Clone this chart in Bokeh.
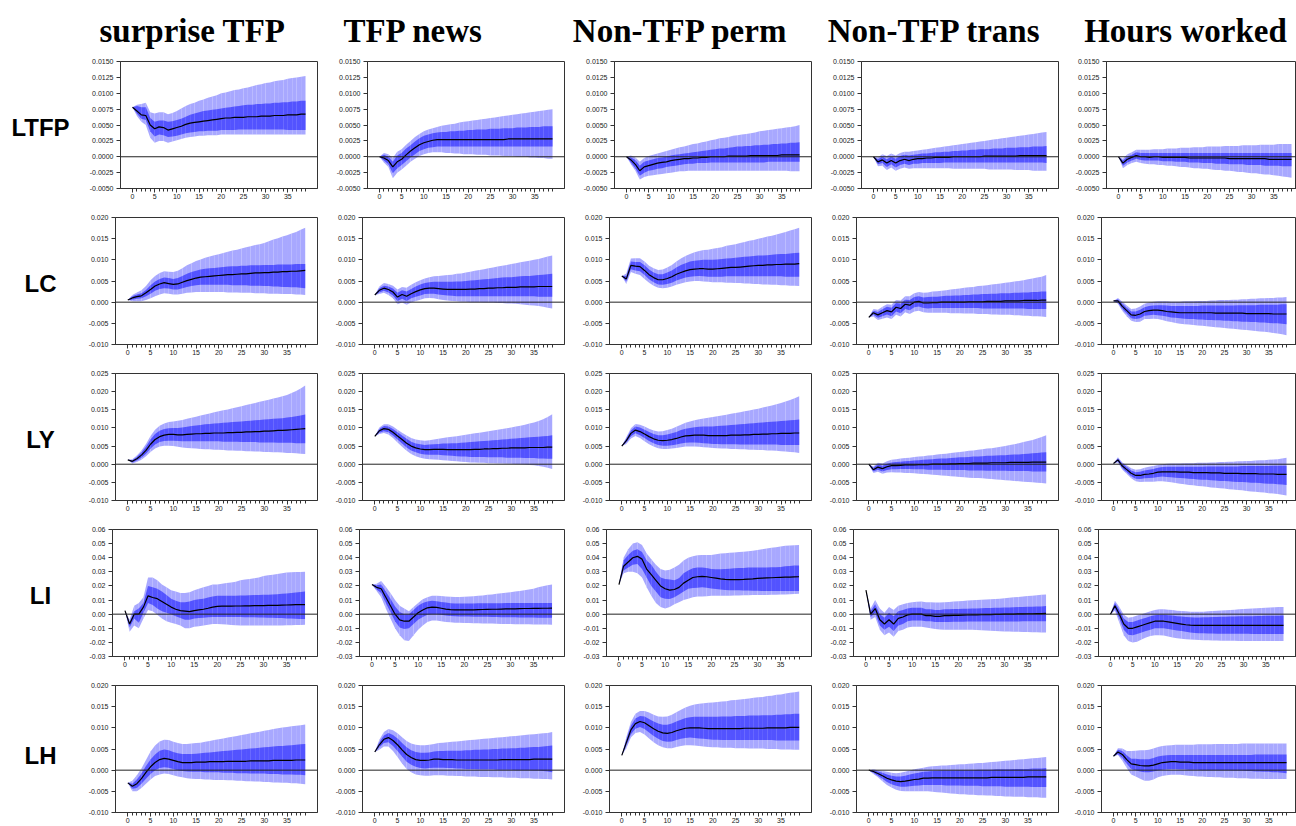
from bokeh.plotting import figure
from bokeh.layouts import column, row
from bokeh.models import FixedTicker, PrintfTickFormatter, Span
from bokeh.core.properties import value
from bokeh.embed import file_html
from bokeh.resources import INLINE

# ---------------- data (values in units of 1e-4) ----------------
horizons = list(range(40))
row_names = ["LTFP", "LC", "LY", "LI", "LH"]
col_names = ["surprise TFP", "TFP news", "Non-TFP perm", "Non-TFP trans", "Hours worked"]
col_keys = ["surp", "news", "perm", "trans", "hours"]

y_ticks = {
    "LTFP": [-0.005, -0.0025, 0.0, 0.0025, 0.005, 0.0075, 0.01, 0.0125, 0.015],
    "LC": [-0.01, -0.005, 0.0, 0.005, 0.01, 0.015, 0.02],
    "LY": [-0.01, -0.005, 0.0, 0.005, 0.01, 0.015, 0.02, 0.025],
    "LI": [-0.03, -0.02, -0.01, 0.0, 0.01, 0.02, 0.03, 0.04, 0.05, 0.06],
    "LH": [-0.01, -0.005, 0.0, 0.005, 0.01, 0.015, 0.02],
}
y_fmt = {"LTFP": "%.4f", "LC": "%.3f", "LY": "%.3f", "LI": "%.2f", "LH": "%.3f"}
x_ticks = [0, 5, 10, 15, 20, 25, 30, 35]

# ---- LTFP ----
LTFP_surp_med = [78,72,66,65,50,44,47,46,42,44, 46,48,51,53,54,55,56,57,58,59, 60,61,61,62,62,62,63,63,63,64, 64,64,65,65,65,66,66,66,67,67]
LTFP_surp_hi68 = [78,80,78,78,61,55,57,57,55,56, 58,60,63,66,68,70,72,73,74,75, 76,77,78,79,80,81,82,82,83,83, 84,84,85,85,86,86,87,87,88,88]
LTFP_surp_lo68 = [78,68,60,58,40,32,35,34,31,32, 33,35,37,38,39,40,40,41,41,41, 42,42,42,42,43,43,43,43,43,43, 43,43,43,43,43,42,42,42,42,42]
LTFP_surp_hi90 = [78,82,83,85,70,68,70,70,67,69, 72,76,80,83,85,88,90,93,95,97, 100,101,103,105,106,108,109,111,113,114, 116,117,119,120,121,123,124,125,126,127]
LTFP_surp_lo90 = [78,64,55,50,30,22,25,25,22,24, 26,28,30,31,32,33,33,34,34,34, 35,35,35,35,35,35,35,35,35,35, 35,35,35,35,35,35,35,35,35,35]

LTFP_news_med = [0,-2,-6,-16,-8,-4,3,9,14,19, 22,24,26,27,27,27,27,27,27,27, 27,27,27,27,27,27,27,27,27,28, 28,28,28,28,28,28,28,28,28,28]
LTFP_news_hi68 = [0,3,0,-8,2,6,13,18,24,29, 33,35,37,38,39,39,40,40,41,41, 42,42,43,43,43,44,44,44,45,45, 45,46,46,46,47,47,47,48,48,48]
LTFP_news_lo68 = [0,-6,-12,-26,-18,-13,-7,-1,4,9, 12,14,15,16,16,16,16,16,16,16, 16,16,16,16,16,16,16,16,16,16, 16,16,16,16,16,16,16,16,16,16]
LTFP_news_hi90 = [0,6,4,-2,8,12,19,25,31,36, 40,43,45,47,49,50,51,52,54,55, 56,57,58,59,60,61,62,63,64,65, 66,67,68,69,70,71,72,73,74,75]
LTFP_news_lo90 = [0,-9,-16,-34,-25,-20,-14,-8,-3,1, 4,6,7,7,7,6,6,5,5,4, 4,4,3,3,3,2,2,2,1,1, 1,0,0,0,-1,-1,-2,-2,-3,-3]

LTFP_perm_med = [0,-5,-12,-22,-16,-14,-12,-10,-9,-8, -6,-5,-4,-3,-3,-2,-2,-1,-1,0, 0,0,0,1,1,1,1,1,2,2, 2,2,2,2,2,3,3,3,3,3]
LTFP_perm_hi68 = [0,-1,-5,-14,-8,-6,-4,-2,-1,0, 2,3,4,5,6,7,8,9,10,11, 12,13,13,14,15,16,16,17,17,18, 18,19,19,20,20,21,21,22,22,23]
LTFP_perm_lo68 = [0,-9,-18,-30,-25,-22,-21,-19,-18,-16, -15,-14,-13,-12,-11,-11,-10,-10,-10,-9, -9,-9,-9,-9,-9,-9,-9,-9,-9,-9, -9,-9,-8,-8,-8,-8,-8,-8,-8,-8]
LTFP_perm_hi90 = [0,2,-1,-8,-2,1,3,5,7,9, 11,13,15,16,18,20,21,23,24,26, 27,29,30,31,33,34,35,36,37,38, 40,41,42,43,44,45,46,47,48,50]
LTFP_perm_lo90 = [0,-12,-22,-36,-32,-30,-29,-28,-27,-26, -25,-24,-23,-23,-22,-22,-22,-22,-22,-22, -22,-22,-22,-22,-22,-22,-22,-22,-22,-22, -22,-22,-22,-22,-22,-22,-22,-23,-23,-23]

LTFP_trans_med = [0,-8,-5,-10,-6,-10,-6,-4,-6,-4, -3,-3,-2,-2,-1,-1,-1,-1,0,0, 0,0,0,0,0,1,1,1,1,1, 1,1,1,2,2,2,2,2,2,2]
LTFP_trans_hi68 = [0,-4,0,-4,0,-3,1,3,2,3, 4,5,5,6,7,7,8,8,9,9, 10,10,11,11,12,12,12,13,13,13, 14,14,14,15,15,15,16,16,16,17]
LTFP_trans_lo68 = [0,-12,-10,-16,-12,-17,-13,-11,-13,-11, -11,-10,-10,-10,-10,-10,-9,-9,-9,-9, -9,-9,-9,-9,-9,-9,-9,-9,-9,-9, -9,-9,-9,-9,-9,-9,-9,-9,-9,-10]
LTFP_trans_hi90 = [0,-1,4,1,5,2,6,8,8,9, 10,11,12,13,14,15,16,17,18,19, 20,21,22,23,24,25,26,27,28,29, 30,31,32,33,34,35,36,37,38,39]
LTFP_trans_lo90 = [0,-15,-14,-21,-17,-22,-19,-17,-19,-18, -18,-18,-18,-18,-18,-18,-18,-18,-19,-19, -19,-19,-19,-19,-19,-19,-20,-20,-20,-20, -20,-20,-21,-21,-21,-21,-22,-22,-22,-22]

LTFP_hours_med = [0,-10,-4,-1,2,0,0,-1,0,0, -1,-1,-1,-1,-1,-1,-2,-2,-2,-2, -2,-2,-2,-2,-2,-3,-3,-3,-3,-3, -3,-3,-3,-3,-4,-4,-4,-4,-4,-4]
LTFP_hours_hi68 = [0,-6,0,3,7,6,6,6,6,6, 6,6,6,6,6,6,6,6,6,6, 6,6,6,6,6,6,6,6,6,6, 6,6,6,6,6,6,6,6,6,6]
LTFP_hours_lo68 = [0,-14,-9,-6,-3,-5,-6,-6,-6,-6, -7,-7,-7,-8,-8,-8,-9,-9,-9,-10, -10,-10,-11,-11,-11,-12,-12,-12,-12,-13, -13,-13,-13,-14,-14,-14,-14,-15,-15,-15]
LTFP_hours_hi90 = [0,-3,4,7,11,11,11,11,12,12, 12,13,13,13,14,14,14,15,15,15, 16,16,16,16,17,17,17,17,18,18, 18,18,19,19,19,19,20,20,20,20]
LTFP_hours_lo90 = [0,-18,-13,-10,-8,-10,-11,-12,-12,-13, -13,-14,-14,-15,-16,-16,-17,-18,-18,-19, -19,-20,-21,-21,-22,-22,-23,-24,-24,-25, -26,-26,-27,-28,-28,-29,-30,-31,-32,-33]

# ---- LC ----
LC_surp_med = [5,10,13,15,22,30,38,43,46,44, 42,43,47,51,54,57,59,60,61,62, 63,64,65,65,66,67,67,68,69,69, 70,70,71,71,72,72,73,73,74,75]
LC_surp_hi68 = [5,14,18,21,29,40,49,55,58,57, 55,57,62,67,71,74,77,79,80,81, 82,83,84,85,85,86,86,87,87,87, 88,88,88,89,89,89,89,90,90,90]
LC_surp_lo68 = [5,6,8,9,14,20,27,31,33,32, 30,30,33,36,38,40,41,41,41,41, 41,41,41,40,40,40,40,39,39,39, 38,38,37,37,36,36,35,35,34,33]
LC_surp_hi90 = [5,17,23,28,38,52,62,69,73,72, 71,74,80,87,92,97,101,105,108,111, 113,116,119,122,124,127,130,132,135,137, 140,144,148,151,155,158,162,166,171,176]
LC_surp_lo90 = [5,2,2,2,5,9,14,18,21,20, 18,18,20,22,23,24,24,24,24,24, 24,24,23,23,23,22,22,22,21,21, 21,20,20,20,19,19,19,18,18,17]

LC_news_med = [17,28,33,30,24,12,18,14,20,25, 29,32,33,33,32,31,30,30,30,30, 30,31,31,32,32,33,33,34,34,35, 35,35,36,36,36,36,37,37,37,37]
LC_news_hi68 = [17,33,39,37,32,22,28,25,31,37, 42,45,47,48,48,48,48,48,49,49, 50,51,52,53,54,55,56,57,58,59, 59,60,61,62,62,63,64,65,66,67]
LC_news_lo68 = [17,23,27,23,16,3,8,3,9,13, 16,19,20,20,18,17,16,15,14,14, 14,14,14,14,14,14,14,14,14,14, 14,14,14,14,14,14,13,13,13,13]
LC_news_hi90 = [17,37,45,43,39,30,36,34,41,47, 52,56,59,61,62,63,64,65,67,68, 70,72,74,76,78,80,82,84,86,88, 90,92,94,96,98,100,102,105,108,110]
LC_news_lo90 = [17,19,22,17,9,-5,-1,-6,-1,3, 6,9,10,9,7,5,4,3,2,1, 1,0,0,0,-1,-1,-1,-2,-2,-3, -3,-4,-5,-6,-7,-8,-9,-11,-13,-15]

LC_perm_med = [62,55,87,85,84,75,65,58,53,53, 56,60,66,70,74,77,78,79,79,78, 78,79,80,81,82,82,83,84,85,86, 87,87,88,88,89,89,90,90,90,91]
LC_perm_hi68 = [62,62,96,95,95,87,77,70,66,66, 70,75,82,88,92,96,98,99,100,100, 100,101,102,103,104,105,106,107,108,109, 110,110,111,112,113,114,114,115,116,117]
LC_perm_lo68 = [62,49,78,75,73,64,54,47,42,41, 43,46,51,55,58,60,61,62,61,60, 60,60,60,61,61,61,61,61,61,61, 61,61,61,61,61,61,60,60,60,60]
LC_perm_hi90 = [62,68,103,104,104,96,86,80,76,77, 82,88,96,103,109,114,118,121,123,124, 126,128,130,133,135,137,140,142,145,147, 150,152,155,157,160,163,166,169,172,176]
LC_perm_lo90 = [62,43,71,67,64,55,46,39,34,33, 34,37,41,44,47,49,50,50,49,48, 47,47,47,46,46,45,45,44,44,43, 43,42,42,41,41,40,40,39,39,38]

LC_trans_med = [-36,-25,-30,-25,-20,-23,-12,-15,-5,-7, 0,2,-2,-2,-1,-1,0,0,0,0, 0,0,1,1,1,1,2,2,2,2, 3,3,3,3,4,4,4,4,5,5]
LC_trans_hi68 = [-36,-20,-23,-17,-11,-13,-2,-4,6,5, 12,14,11,12,13,13,14,15,15,16, 16,17,17,18,18,19,19,20,20,21, 21,21,22,22,23,23,24,24,25,25]
LC_trans_lo68 = [-36,-30,-37,-33,-29,-33,-22,-26,-16,-19, -12,-10,-14,-15,-14,-14,-14,-14,-14,-14, -14,-14,-14,-14,-14,-15,-15,-15,-15,-15, -15,-15,-15,-15,-15,-16,-16,-16,-16,-16]
LC_trans_hi90 = [-36,-16,-18,-11,-5,-6,5,4,14,14, 21,24,22,23,25,26,27,28,30,31, 32,34,35,36,38,39,40,42,43,44, 46,47,49,50,52,54,56,58,60,64]
LC_trans_lo90 = [-36,-34,-42,-39,-36,-40,-30,-34,-24,-28, -22,-20,-24,-25,-25,-25,-25,-25,-26,-26, -26,-27,-27,-27,-28,-28,-28,-29,-29,-30, -30,-30,-31,-31,-32,-32,-33,-33,-34,-35]

LC_hours_med = [3,3,-10,-20,-30,-31,-28,-22,-20,-19, -19,-20,-22,-23,-24,-25,-25,-25,-25,-25, -25,-25,-25,-26,-26,-26,-26,-26,-26,-26, -27,-27,-27,-27,-27,-27,-28,-28,-28,-28]
LC_hours_hi68 = [3,7,-4,-13,-22,-22,-18,-12,-9,-8, -7,-7,-8,-9,-9,-9,-9,-9,-9,-9, -8,-8,-8,-8,-8,-8,-8,-8,-7,-7, -7,-7,-7,-6,-6,-6,-6,-6,-5,-5]
LC_hours_lo68 = [3,-1,-16,-27,-38,-40,-38,-32,-31,-30, -31,-32,-34,-36,-37,-38,-39,-40,-40,-41, -41,-42,-42,-43,-43,-44,-44,-45,-45,-46, -46,-47,-47,-48,-48,-49,-50,-50,-51,-52]
LC_hours_hi90 = [3,10,1,-8,-16,-15,-10,-4,-1,1, 2,2,2,1,1,1,2,2,2,3, 3,3,4,4,5,5,5,6,6,7, 7,8,8,9,9,10,10,11,11,12]
LC_hours_lo90 = [3,-4,-21,-33,-44,-47,-46,-40,-40,-39, -40,-42,-45,-47,-49,-51,-52,-53,-54,-55, -56,-57,-58,-59,-60,-61,-62,-63,-64,-65, -66,-67,-68,-69,-70,-71,-73,-74,-76,-78]

# ---- LY ----
LY_surp_med = [12,8,15,25,38,55,68,76,80,82, 82,81,81,82,83,84,84,85,85,86, 86,86,87,87,88,88,89,89,90,90, 91,91,92,93,93,94,95,96,97,98]
LY_surp_hi68 = [12,11,20,32,48,68,83,92,97,99, 100,100,101,103,105,107,108,110,111,112, 113,114,115,116,117,118,119,120,121,122, 123,124,125,126,127,129,130,132,134,137]
LY_surp_lo68 = [12,5,10,18,29,43,54,61,64,65, 65,64,63,63,63,63,63,63,63,63, 63,62,62,62,62,61,61,61,61,60, 60,60,60,59,59,59,59,58,58,58]
LY_surp_hi90 = [12,14,24,38,56,78,95,106,112,116, 118,120,122,125,128,131,134,137,140,143, 146,149,151,154,157,160,163,166,169,172, 175,178,181,184,187,191,196,202,209,217]
LY_surp_lo90 = [12,2,6,12,22,34,43,49,51,51, 50,48,46,45,44,43,42,41,41,40, 40,39,38,38,37,37,36,36,35,35, 34,34,33,33,32,31,31,30,29,28]

LY_news_med = [77,92,98,96,88,78,68,58,50,45, 42,40,40,41,41,41,40,40,40,40, 40,40,41,41,42,42,43,43,44,44, 45,45,45,45,46,46,46,46,47,47]
LY_news_hi68 = [77,97,105,104,97,88,79,70,62,57, 55,53,54,55,56,57,57,58,58,59, 60,61,62,63,64,65,66,67,68,69, 70,71,72,73,74,75,76,77,78,80]
LY_news_lo68 = [77,87,91,88,79,68,57,46,38,33, 29,27,26,26,26,25,24,23,22,21, 21,20,20,20,20,19,19,19,19,18, 18,18,18,17,17,17,16,16,15,15]
LY_news_hi90 = [77,101,110,110,104,95,87,79,72,68, 66,65,66,68,70,72,74,76,77,79, 81,83,85,87,89,91,93,95,97,99, 101,104,106,109,112,115,119,124,130,138]
LY_news_lo90 = [77,83,86,82,72,60,48,37,28,22, 18,15,14,13,12,11,10,9,8,7, 6,5,5,4,4,3,3,2,2,1, 1,0,0,-1,-2,-3,-5,-7,-10,-13]

LY_perm_med = [50,65,85,94,90,83,76,70,66,65, 66,68,71,75,78,79,80,80,80,79, 79,79,79,79,80,80,80,81,81,82, 82,83,83,84,84,85,85,85,86,86]
LY_perm_hi68 = [50,70,93,104,101,95,89,83,80,80, 82,85,89,94,98,100,102,103,104,104, 104,105,106,107,108,109,110,111,112,113, 114,115,116,117,118,119,120,121,122,123]
LY_perm_lo68 = [50,60,77,85,80,72,64,58,53,51, 51,52,54,57,59,60,60,59,58,57, 56,56,55,55,55,55,54,54,54,54, 54,54,54,54,54,53,53,53,53,53]
LY_perm_hi90 = [50,74,99,111,109,104,98,93,90,91, 94,98,103,109,114,118,121,124,126,128, 130,132,134,136,139,141,143,146,148,151, 153,156,159,162,165,169,173,177,182,187]
LY_perm_lo90 = [50,56,71,78,72,63,55,49,44,42, 42,43,45,47,49,49,49,48,47,46, 45,44,43,43,42,42,41,41,40,40, 39,39,38,38,37,36,35,34,33,31]

LY_trans_med = [0,-15,-8,-12,-7,-4,-4,-3,-2,-2, -2,-1,-1,-1,0,0,0,0,1,1, 2,2,2,3,3,3,3,4,4,4, 4,5,5,5,5,5,6,6,6,6]
LY_trans_hi68 = [0,-10,-1,-4,1,5,6,7,8,9, 10,11,12,13,14,15,16,16,17,18, 19,19,20,21,21,22,23,23,24,25, 25,26,27,27,28,29,30,31,32,33]
LY_trans_lo68 = [0,-20,-15,-20,-16,-14,-14,-13,-13,-13, -14,-14,-14,-15,-15,-15,-15,-16,-16,-16, -16,-16,-17,-17,-17,-17,-18,-18,-18,-18, -18,-19,-19,-19,-19,-19,-20,-20,-20,-20]
LY_trans_hi90 = [0,-6,4,2,8,12,14,16,17,18, 20,21,22,24,25,27,28,29,31,32, 34,35,37,38,40,41,43,44,46,48, 50,53,55,58,61,64,67,71,75,80]
LY_trans_lo90 = [0,-24,-21,-26,-23,-22,-23,-23,-24,-24, -25,-26,-27,-28,-29,-30,-31,-32,-33,-34, -35,-36,-37,-38,-38,-39,-40,-41,-42,-43, -44,-45,-46,-47,-48,-49,-50,-51,-52,-53]

LY_hours_med = [2,12,-5,-15,-25,-31,-31,-28,-27,-25, -22,-21,-21,-21,-21,-22,-22,-22,-23,-23, -23,-23,-24,-24,-24,-25,-25,-25,-25,-26, -26,-26,-26,-27,-27,-27,-27,-28,-28,-28]
LY_hours_hi68 = [2,16,1,-8,-17,-22,-21,-17,-15,-13, -10,-8,-7,-7,-7,-7,-7,-7,-7,-7, -7,-6,-6,-6,-6,-6,-6,-6,-6,-5, -5,-5,-5,-5,-5,-5,-4,-4,-4,-4]
LY_hours_lo68 = [2,8,-11,-22,-33,-40,-41,-39,-38,-37, -35,-34,-35,-36,-37,-38,-39,-40,-41,-42, -43,-43,-44,-45,-46,-46,-47,-48,-49,-49, -50,-51,-51,-52,-53,-54,-54,-55,-56,-57]
LY_hours_hi90 = [2,19,5,-3,-11,-15,-14,-10,-7,-5, -2,0,1,2,2,2,3,3,3,4, 4,4,5,5,6,6,7,7,8,8, 9,9,10,11,11,12,13,14,16,18]
LY_hours_lo90 = [2,5,-15,-27,-39,-47,-49,-48,-48,-48, -47,-47,-48,-50,-52,-54,-55,-57,-58,-60, -61,-62,-64,-65,-66,-67,-69,-70,-71,-72, -74,-75,-76,-77,-78,-80,-81,-82,-84,-86]

# ---- LI ----
LI_surp_med = [25,-70,0,0,50,130,118,110,90,70, 50,35,25,22,18,25,30,35,42,50, 55,57,57,57,58,58,59,59,60,60, 61,62,62,63,64,65,66,67,67,68]
LI_surp_hi68 = [25,-55,20,40,80,200,190,180,160,135, 110,95,85,85,90,100,105,110,118,125, 130,130,130,130,131,132,133,134,135,136, 137,138,140,142,144,146,150,154,157,160]
LI_surp_lo68 = [25,-95,-30,-60,10,80,65,40,20,10, 0,-15,-28,-40,-40,-30,-28,-25,-22,-20, -20,-20,-20,-20,-20,-20,-21,-22,-22,-23, -24,-25,-26,-27,-28,-30,-31,-33,-34,-35]
LI_surp_hi90 = [25,-40,60,80,120,260,260,240,210,190, 170,160,150,150,155,170,180,190,200,210, 210,215,220,225,230,240,245,250,255,260, 270,275,280,285,290,295,297,298,299,300]
LI_surp_lo90 = [25,-125,-80,-100,-30,30,20,-5,-30,-50, -60,-70,-80,-100,-100,-90,-85,-80,-75,-70, -70,-72,-74,-76,-78,-80,-80,-80,-80,-80, -80,-80,-80,-80,-80,-79,-78,-77,-76,-75]

LI_news_med = [210,190,180,120,60,0,-40,-50,-50,-20, 10,30,45,50,48,42,36,32,30,30, 30,30,31,32,33,34,35,35,36,37, 38,38,39,40,40,41,41,42,42,43]
LI_news_hi68 = [210,205,210,160,110,55,15,0,0,30, 60,80,90,95,92,87,82,78,76,75, 75,75,76,77,77,78,78,78,78,79, 79,79,79,79,80,80,80,80,80,80]
LI_news_lo68 = [210,175,150,80,15,-50,-95,-105,-100,-70, -40,-20,-5,0,0,-5,-10,-13,-15,-17, -17,-17,-18,-18,-19,-19,-20,-20,-21,-21, -22,-22,-23,-23,-24,-24,-25,-25,-26,-26]
LI_news_hi90 = [210,215,235,195,150,100,60,40,20,50, 80,105,120,130,130,128,125,123,122,122, 123,125,127,130,133,137,140,144,148,152, 156,160,165,170,175,180,190,198,205,210]
LI_news_lo90 = [210,165,120,40,-30,-100,-150,-185,-190,-150, -110,-80,-55,-45,-45,-50,-55,-58,-60,-61, -62,-63,-64,-65,-66,-67,-67,-68,-69,-70, -70,-71,-71,-72,-72,-73,-73,-74,-74,-75]

LI_perm_med = [210,340,370,400,410,390,320,280,240,200, 180,170,175,190,220,240,260,265,268,265, 260,255,250,247,245,245,245,246,248,250, 253,255,257,258,260,261,262,263,264,265]
LI_perm_hi68 = [210,380,420,450,460,440,380,350,300,260, 250,245,240,255,290,310,325,330,330,327, 320,318,318,320,322,325,327,328,330,330, 330,330,331,332,333,335,340,342,344,345]
LI_perm_lo68 = [210,310,330,350,355,320,260,200,160,120, 110,108,120,140,160,180,185,188,190,187, 182,178,175,172,170,170,169,168,167,166, 166,165,165,165,165,165,165,165,165,165]
LI_perm_hi90 = [210,400,460,500,510,490,430,390,350,320, 310,315,330,350,380,400,410,418,420,420, 420,425,430,432,435,437,440,443,446,450, 455,460,465,470,475,480,485,487,489,490]
LI_perm_lo90 = [210,290,300,300,290,260,190,130,80,50, 40,50,70,85,100,110,120,125,125,127, 130,130,130,130,131,132,133,134,134,135, 135,135,136,137,138,140,140,142,143,145]

LI_trans_med = [170,0,40,-40,-70,-40,-70,-30,-20,-5, 0,0,0,-10,-10,-15,-15,-10,-10,-9, -8,-7,-6,-5,-5,-4,-3,-3,-2,-2, 0,0,1,2,2,3,3,4,4,5]
LI_trans_hi68 = [170,20,70,0,-25,10,-15,20,30,40, 45,45,45,35,35,30,30,35,35,36, 37,38,39,40,41,42,43,44,45,46, 47,48,49,50,51,52,53,54,55,57]
LI_trans_lo68 = [170,-20,10,-80,-110,-90,-120,-80,-70,-50, -45,-45,-45,-50,-50,-55,-55,-55,-55,-54, -53,-53,-52,-52,-52,-52,-52,-52,-52,-52, -52,-52,-52,-52,-51,-51,-50,-50,-50,-50]
LI_trans_hi90 = [170,40,100,40,10,50,30,60,70,80, 85,88,90,85,85,82,82,85,87,90, 92,94,96,98,100,102,104,106,108,110, 113,116,119,122,125,128,131,134,137,140]
LI_trans_lo90 = [170,-40,-20,-110,-150,-130,-160,-120,-110,-95, -90,-90,-90,-95,-100,-105,-108,-110,-110,-110, -110,-110,-110,-110,-112,-114,-116,-118,-120,-121, -122,-123,-124,-125,-126,-127,-128,-129,-130,-130]

LI_hours_med = [0,60,0,-70,-100,-100,-90,-80,-70,-60, -50,-50,-50,-55,-60,-65,-70,-75,-78,-79, -80,-80,-80,-80,-80,-80,-80,-80,-80,-80, -80,-80,-80,-80,-80,-80,-80,-80,-80,-80]
LI_hours_hi68 = [0,80,30,-30,-55,-55,-45,-35,-25,-15, -8,-5,-5,-8,-10,-14,-17,-20,-22,-23, -23,-22,-21,-20,-20,-19,-18,-17,-16,-15, -15,-14,-14,-13,-13,-12,-12,-11,-11,-10]
LI_hours_lo68 = [0,40,-30,-110,-145,-150,-140,-130,-120,-110, -100,-100,-100,-105,-110,-115,-120,-125,-130,-133, -135,-136,-137,-137,-138,-138,-138,-139,-139,-139, -139,-139,-140,-140,-140,-140,-140,-140,-140,-140]
LI_hours_hi90 = [0,95,50,-5,-25,-20,-10,0,10,20, 30,35,35,32,30,25,22,20,18,17, 17,18,20,22,24,26,28,30,32,34, 36,38,40,42,44,46,48,49,50,50]
LI_hours_lo90 = [0,25,-60,-150,-190,-200,-195,-180,-165,-155, -150,-150,-152,-158,-165,-170,-175,-178,-180,-182, -183,-184,-185,-186,-187,-188,-188,-189,-189,-190, -190,-190,-190,-190,-190,-190,-190,-190,-190,-190]

# ---- LH ----
LH_surp_med = [-30,-38,-32,-20,-5,8,18,25,28,26, 23,20,18,18,18,19,19,19,20,20, 20,20,21,21,21,21,21,22,22,22, 22,22,23,23,23,23,23,24,24,24]
LH_surp_hi68 = [-30,-32,-22,-8,10,25,37,46,49,47, 43,40,38,38,38,39,40,41,42,43, 44,45,46,47,48,49,50,51,52,53, 54,55,56,57,57,58,59,60,61,62]
LH_surp_lo68 = [-30,-44,-42,-32,-20,-9,0,5,7,6, 3,0,-2,-3,-4,-4,-4,-5,-5,-5, -5,-6,-6,-6,-7,-7,-7,-8,-8,-8, -8,-9,-9,-9,-10,-10,-10,-11,-11,-12]
LH_surp_hi90 = [-30,-25,-12,4,24,44,58,68,72,71, 67,64,62,62,63,64,65,67,69,71, 73,75,77,79,81,83,85,87,89,91, 93,95,97,99,101,102,104,105,106,108]
LH_surp_lo90 = [-30,-50,-50,-42,-32,-22,-14,-10,-8,-9, -12,-15,-17,-19,-20,-21,-21,-22,-22,-23, -23,-23,-24,-24,-25,-25,-26,-26,-27,-27, -28,-28,-29,-29,-30,-30,-31,-31,-32,-33]

LH_news_med = [43,60,73,77,70,60,48,37,30,25, 23,23,24,26,26,25,25,25,24,24, 24,24,24,24,24,24,24,24,25,25, 25,25,25,25,25,26,26,26,26,26]
LH_news_hi68 = [43,66,82,88,83,75,64,54,47,43, 41,41,42,44,45,45,46,46,46,46, 47,47,48,48,49,49,50,50,51,51, 52,52,53,53,54,55,55,56,57,58]
LH_news_lo68 = [43,54,64,66,57,45,32,20,13,8, 5,4,5,6,6,6,5,5,4,4, 3,3,3,2,2,2,2,1,1,1, 1,0,0,0,0,-1,-1,-2,-3,-5]
LH_news_hi90 = [43,72,90,97,94,87,78,69,63,60, 59,59,60,62,64,65,66,67,68,69, 70,71,72,73,74,75,76,77,78,79, 80,81,82,83,84,85,86,87,88,90]
LH_news_lo90 = [43,48,56,56,45,31,16,3,-5,-10, -12,-13,-13,-12,-12,-12,-13,-13,-14,-14, -15,-15,-15,-16,-16,-16,-17,-17,-17,-18, -18,-18,-19,-19,-19,-20,-20,-21,-21,-22]

LH_perm_med = [35,65,95,110,115,112,105,98,92,88, 87,89,93,96,99,100,100,100,99,98, 98,98,98,98,98,98,98,99,99,99, 99,99,100,100,100,100,100,101,101,101]
LH_perm_hi68 = [35,72,105,122,128,127,121,115,110,107, 107,110,115,119,123,125,126,126,126,126, 126,126,127,127,127,128,128,128,129,129, 129,130,130,130,131,131,132,132,133,133]
LH_perm_lo68 = [35,58,85,98,102,97,89,81,74,69, 67,68,71,74,76,77,76,75,74,73, 72,72,71,71,71,71,71,71,71,71, 71,71,71,71,70,70,70,70,70,70]
LH_perm_hi90 = [35,78,114,133,140,140,136,131,127,126, 127,131,137,143,148,152,155,157,158,159, 160,161,162,163,165,166,167,168,169,171, 172,173,175,176,178,179,181,183,184,186]
LH_perm_lo90 = [35,52,77,88,90,84,75,66,59,54, 52,52,55,57,59,59,58,57,56,55, 54,54,53,53,53,52,52,52,51,51, 51,51,50,50,50,49,49,49,48,48]

LH_trans_med = [0,-3,-8,-13,-19,-23,-26,-27,-26,-24, -22,-21,-19,-19,-18,-18,-18,-18,-18,-18, -18,-18,-18,-18,-18,-18,-18,-17,-17,-17, -17,-17,-17,-17,-17,-16,-16,-16,-16,-16]
LH_trans_hi68 = [0,0,-3,-6,-10,-13,-15,-15,-13,-10, -8,-6,-4,-3,-2,-2,-1,-1,-1,-1, 0,0,0,0,1,1,1,1,2,2, 2,2,3,3,3,3,4,4,4,5]
LH_trans_lo68 = [0,-6,-13,-20,-28,-33,-37,-39,-39,-38, -37,-36,-35,-35,-35,-35,-35,-36,-36,-36, -36,-37,-37,-37,-37,-38,-38,-38,-38,-38, -39,-39,-39,-39,-39,-39,-40,-40,-40,-40]
LH_trans_hi90 = [0,2,0,-2,-4,-6,-7,-6,-4,-1, 2,4,6,8,9,10,11,11,12,13, 14,14,15,16,17,17,18,19,20,21, 22,23,24,25,26,27,28,29,30,31]
LH_trans_lo90 = [0,-9,-17,-26,-35,-41,-46,-49,-50,-50, -50,-50,-50,-50,-51,-52,-53,-54,-55,-56, -57,-57,-58,-58,-59,-59,-60,-60,-61,-61, -62,-62,-63,-63,-63,-64,-64,-64,-65,-65]

LH_hours_med = [33,43,37,25,15,13,11,10,10,12, 15,18,19,20,20,19,19,19,18,18, 18,18,18,18,18,18,18,18,18,18, 18,18,18,18,18,18,18,18,18,18]
LH_hours_hi68 = [33,48,45,35,27,27,26,26,26,29, 32,34,35,36,36,36,36,36,36,36, 36,36,36,36,36,36,36,36,36,36, 36,36,37,37,37,37,37,37,37,37]
LH_hours_lo68 = [33,38,29,15,3,0,-3,-5,-5,-3, -1,1,2,3,3,2,2,1,1,1, 0,0,0,0,0,0,0,-1,-1,-1, -2,-2,-3,-3,-4,-4,-5,-5,-6,-7]
LH_hours_hi90 = [33,52,51,45,45,46,47,47,48,51, 55,57,58,59,60,60,60,60,60,61, 61,61,61,62,62,62,62,62,62,63, 63,63,63,63,63,63,63,63,63,63]
LH_hours_lo90 = [33,36,22,5,-10,-15,-20,-25,-25,-22, -17,-14,-12,-11,-11,-11,-12,-13,-14,-15, -15,-16,-16,-17,-17,-18,-18,-18,-19,-19, -19,-20,-20,-20,-21,-21,-21,-21,-21,-21]

# table assembled from the named lists above
g = globals()
DATA = {
    r: {c: tuple(g[f"{r}_{c}_{k}"] for k in ("lo90", "lo68", "med", "hi68", "hi90")) for c in col_keys}
    for r in row_names
}

# ---------------- styling / layout (page has no margin) ----------------
OUTER = "#A8A8FF"
INNER = "#5353FF"
AXIS = "#333333"
TICK_FONT = "Liberation Sans"

PAGE_W = 1296
HEAD_H = 55
TOP, FRAME_H, BOT, BOT_LAST = 6, 127, 23, 14
LABEL_W = 80
col_start = [LABEL_W, 320, 567, 814, 1061]     # canvas left edge per column
col_end = [320, 567, 814, 1061, PAGE_W]
frame_left = [120, 367, 614, 861, 1106]        # reference frame left edges
frame_right = [317, 564, 811, 1058, PAGE_W]    # last frame runs to the window edge
row_dl = [0, -5, -5, -8, -5]                   # frame left shift per row (label widths)
PX_PER_H = 197 / 44.4
title_x = [192, 413, 680, 934, 1185]
TITLE_Y = 25          # empirical anchor that puts the baseline near y=42 px
LABEL_DY = 12         # row label sits a little below the frame centre


def make_panel(ri, ci):
    rname = row_names[ri]
    ckey = col_keys[ci]
    lo90, lo68, med, hi68, hi90 = [[v * 1e-4 for v in a] for a in DATA[rname][ckey]]
    ticks = y_ticks[rname]
    fl = frame_left[ci] + row_dl[ri]
    fr = frame_right[ci]
    L = fl - col_start[ci]
    R = col_end[ci] - fr
    bot = BOT_LAST if ri == 4 else BOT
    x0 = -2.7
    x1 = x0 + (fr - fl) / PX_PER_H if ci == 4 else 41.7
    p = figure(
        width=col_end[ci] - col_start[ci],
        height=TOP + FRAME_H + bot,
        x_range=(x0, x1),
        y_range=(ticks[0], ticks[-1]),
        output_backend="svg",
        toolbar_location=None,
        min_border_left=L,
        min_border_right=R,
        min_border_top=TOP,
        min_border_bottom=bot,
    )
    p.xgrid.visible = False
    p.ygrid.visible = False
    p.outline_line_color = AXIS
    p.outline_line_width = 1
    p.background_fill_color = "white"
    p.border_fill_color = "white"

    # bands drawn as one quad per horizon step (gives the faint seams of the original)
    segs = horizons[:-1]
    p.patches(
        xs=[[h, h + 1, h + 1, h] for h in segs],
        ys=[[lo90[h], lo90[h + 1], hi90[h + 1], hi90[h]] for h in segs],
        fill_color=OUTER, line_color=None,
    )
    p.patches(
        xs=[[h, h + 1, h + 1, h] for h in segs],
        ys=[[lo68[h], lo68[h + 1], hi68[h + 1], hi68[h]] for h in segs],
        fill_color=INNER, line_color=None,
    )
    p.add_layout(Span(location=0, dimension="width", line_color="#222222", line_width=1))
    p.line(x=horizons, y=med, line_color="black", line_width=1.2)

    p.xaxis.ticker = FixedTicker(ticks=x_ticks, minor_ticks=horizons)
    p.yaxis.ticker = FixedTicker(ticks=ticks)
    p.yaxis.formatter = PrintfTickFormatter(format=y_fmt[rname])
    for ax in (p.xaxis, p.yaxis):
        ax.axis_line_color = AXIS
        ax.major_tick_line_color = AXIS
        ax.minor_tick_line_color = AXIS
        ax.major_tick_in = 0
        ax.major_tick_out = 4
        ax.minor_tick_in = 0
        ax.minor_tick_out = 3
        ax.major_label_text_font = TICK_FONT
        ax.major_label_text_font_size = "7px"
        ax.major_label_text_color = "#222222"
        ax.major_label_standoff = 3
    p.yaxis.minor_tick_line_color = None
    p.xaxis.major_label_standoff = 1
    return p


def make_label(ri):
    h = TOP + FRAME_H + (BOT_LAST if ri == 4 else BOT)
    lf = figure(
        width=LABEL_W, height=h, x_range=(0, LABEL_W), y_range=(0, h),
        output_backend="svg", toolbar_location=None, min_border=0,
        x_axis_type=None, y_axis_type=None,
    )
    lf.xgrid.visible = False
    lf.ygrid.visible = False
    lf.outline_line_color = None
    lf.text(
        x=[40], y=[h - TOP - FRAME_H / 2 - LABEL_DY], text=[row_names[ri]],
        text_font=value("Liberation Sans"), text_font_style="bold",
        text_font_size="24px", text_align="center", text_baseline="middle",
        text_color="black",
    )
    return lf


head = figure(
    width=PAGE_W, height=HEAD_H, x_range=(0, PAGE_W), y_range=(0, HEAD_H),
    output_backend="svg", toolbar_location=None, min_border=0,
    x_axis_type=None, y_axis_type=None,
)
head.xgrid.visible = False
head.ygrid.visible = False
head.outline_line_color = None
head.text(
    x=title_x, y=[TITLE_Y] * 5, text=col_names,
    text_font=value("Liberation Serif"), text_font_style="bold",
    text_font_size="33px", text_align="center", text_baseline="alphabetic",
    text_color="black",
)

rows = [row(make_label(ri), *[make_panel(ri, ci) for ci in range(5)]) for ri in range(5)]
layout = column(head, *rows)

with open("out.html", "w") as f:
    f.write(file_html(layout, INLINE, title="IRF grid"))
